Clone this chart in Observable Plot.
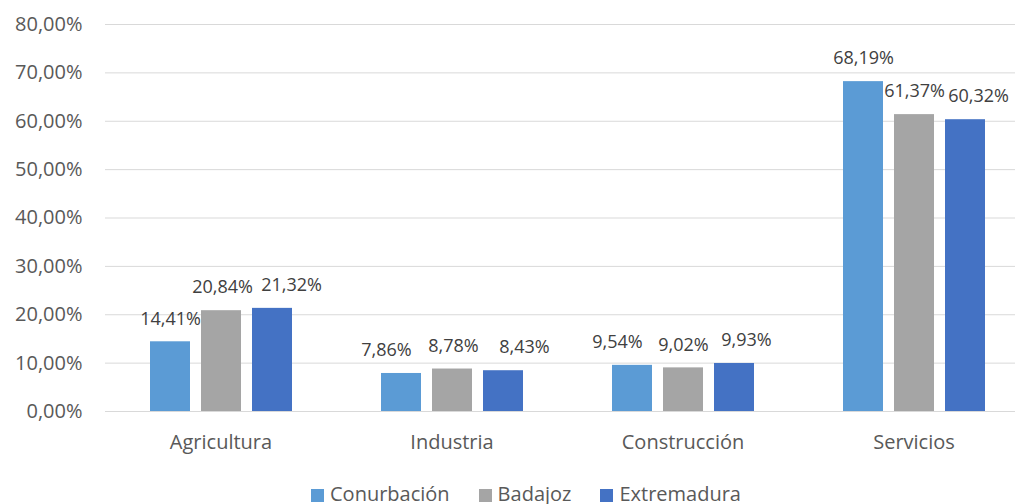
<!DOCTYPE html>
<html>
<head>
<meta charset="utf-8">
<script src="https://cdn.jsdelivr.net/npm/d3@7"></script>
<script src="https://cdn.jsdelivr.net/npm/@observablehq/plot@0.6"></script>
<style>
  body { margin: 0; background: #fff; font-family: "Open Sans", sans-serif; overflow: hidden; }
  #wrap { position: relative; width: 1015px; height: 504px; overflow: hidden; }
  #legend { position: absolute; top: 484px; left: 311px; display: flex; font-size: 20px; line-height: 20px; color: #595959; white-space: nowrap; }
  #legend .item { display: flex; align-items: baseline; margin-right: 29px; }
  #legend .sw { display: inline-block; width: 13px; height: 13px; margin-right: 6px; position: relative; top: 1px; }
</style>
</head>
<body>
<div id="wrap">
  <div id="chart"></div>
  <div id="legend"></div>
</div>
<script>
const categories = ["Agricultura", "Industria", "Construcción", "Servicios"];
const series = ["Conurbación", "Badajoz", "Extremadura"];
const conurbacion = [14.41, 7.86, 9.54, 68.19];
const badajoz = [20.84, 8.78, 9.02, 61.37];
const extremadura = [21.32, 8.43, 9.93, 60.32];
const yTicks = [0, 10, 20, 30, 40, 50, 60, 70, 80];
const colors = ["#5B9BD5", "#A5A5A5", "#4472C4"];
// horizontal nudges of the value labels (px), as placed in the original
const nudgeConurbacion = [0, -15, -15, 0];
const nudgeBadajoz = [1, 1, 0, 0];
const nudgeExtremadura = [19, 21, 12, 13];

const valuesBySeries = [conurbacion, badajoz, extremadura];
const nudges = [nudgeConurbacion, nudgeBadajoz, nudgeExtremadura];
const data = [];
categories.forEach((c, i) => series.forEach((s, j) => {
  data.push({category: c, series: s, value: valuesBySeries[j][i], nudge: nudges[j][i]});
}));
const fmt = v => v.toFixed(2).replace(".", ",") + "%";

const labelMarks = data.map(d => Plot.text([d], {
  fx: "category", x: "series", y: "value",
  text: r => fmt(r.value), dy: -23, dx: d.nudge, lineAnchor: "middle",
  fill: "#404040", fontSize: 18
}));

const chart = Plot.plot({
  width: 1015,
  height: 470,
  marginTop: 24,
  marginBottom: 59,
  marginLeft: 105,
  marginRight: -14,
  style: {fontFamily: '"Open Sans", sans-serif', fontSize: "20px", color: "#595959", background: "#fff", overflow: "visible"},
  fx: {domain: categories, padding: 0, label: null, tickSize: 0, tickPadding: 23},
  x: {domain: series, axis: null, paddingInner: 0.223, paddingOuter: 0.854},
  y: {domain: [0, 80], ticks: yTicks, tickFormat: fmt, label: null, tickSize: 0, tickPadding: 23},
  color: {domain: series, range: colors},
  marks: [
    Plot.ruleY(yTicks, {stroke: "#D9D9D9", strokeWidth: 1}),
    Plot.barY(data, {fx: "category", x: "series", y: "value", fill: "series"}),
    ...labelMarks
  ]
});
document.getElementById("chart").appendChild(chart);

const legend = document.getElementById("legend");
series.forEach((s, j) => {
  const item = document.createElement("div");
  item.className = "item";
  const sw = document.createElement("span");
  sw.className = "sw";
  sw.style.background = colors[j];
  const t = document.createElement("span");
  t.textContent = s;
  item.appendChild(sw);
  item.appendChild(t);
  legend.appendChild(item);
});
</script>
</body>
</html>
